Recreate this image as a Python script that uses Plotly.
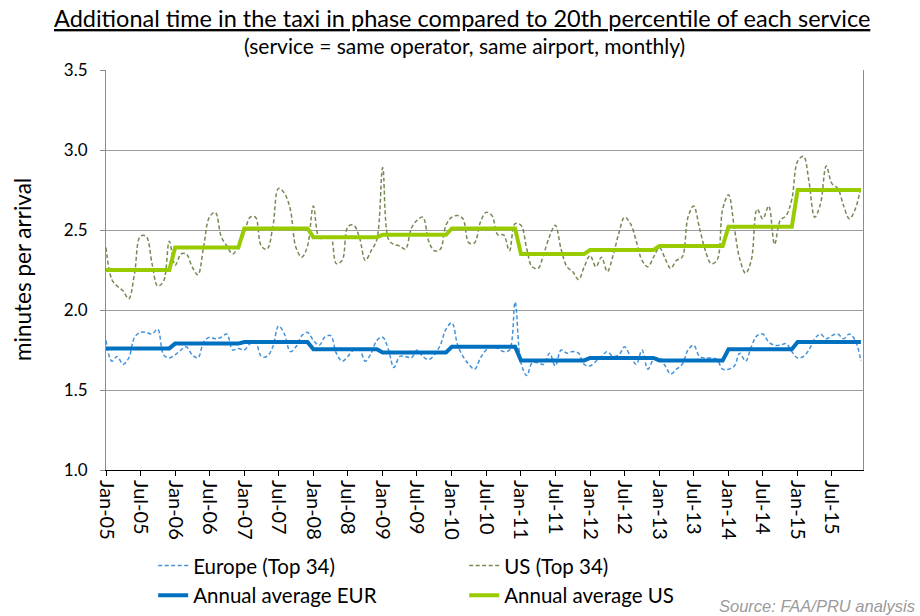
import pandas as pd
import plotly.graph_objects as go

# Monthly series, Jan-2005 .. Dec-2015 (minutes per arrival)
europe_top34 = [
    1.81, 1.68, 1.71, 1.66, 1.70, 1.83, 1.86, 1.86, 1.85, 1.88, 1.72, 1.70,
    1.72, 1.75, 1.77, 1.72, 1.70, 1.80, 1.83, 1.82, 1.83, 1.85, 1.75, 1.76,
    1.75, 1.79, 1.80, 1.71, 1.71, 1.77, 1.90, 1.85, 1.74, 1.77, 1.84, 1.86,
    1.81, 1.78, 1.83, 1.84, 1.73, 1.68, 1.71, 1.75, 1.75, 1.68, 1.73, 1.81,
    1.83, 1.75, 1.64, 1.71, 1.71, 1.70, 1.75, 1.71, 1.69, 1.72, 1.78, 1.88,
    1.92, 1.78, 1.71, 1.66, 1.63, 1.70, 1.75, 1.77, 1.76, 1.74, 1.75, 2.05,
    1.67, 1.59, 1.67, 1.67, 1.66, 1.73, 1.65, 1.75, 1.73, 1.74, 1.73, 1.66,
    1.65, 1.68, 1.71, 1.74, 1.71, 1.72, 1.77, 1.71, 1.66, 1.75, 1.63, 1.69,
    1.70, 1.65, 1.60, 1.63, 1.66, 1.75, 1.78, 1.71, 1.70, 1.70, 1.69, 1.63,
    1.63, 1.65, 1.73, 1.68, 1.77, 1.84, 1.85, 1.80, 1.78, 1.78, 1.79, 1.74,
    1.70, 1.71, 1.75, 1.82, 1.85, 1.82, 1.84, 1.85, 1.82, 1.85, 1.81, 1.68,
]

us_top34 = [
    2.39, 2.19, 2.15, 2.12, 2.07, 2.23, 2.46, 2.46, 2.29, 2.15, 2.18, 2.43,
    2.28, 2.35, 2.35, 2.27, 2.22, 2.40, 2.58, 2.61, 2.46, 2.40, 2.35, 2.40,
    2.48, 2.58, 2.58, 2.40, 2.38, 2.52, 2.76, 2.73, 2.63, 2.39, 2.33, 2.40,
    2.65, 2.45, 2.45, 2.46, 2.29, 2.31, 2.52, 2.53, 2.45, 2.31, 2.37, 2.44,
    2.89, 2.44, 2.41, 2.40, 2.38, 2.51, 2.56, 2.58, 2.43, 2.37, 2.38, 2.53,
    2.58, 2.59, 2.57, 2.42, 2.42, 2.55, 2.61, 2.59, 2.47, 2.47, 2.37, 2.54,
    2.53, 2.38, 2.27, 2.26, 2.35, 2.46, 2.53, 2.38, 2.27, 2.24, 2.19, 2.27,
    2.34, 2.27, 2.33, 2.24, 2.34, 2.48, 2.58, 2.54, 2.43, 2.31, 2.27, 2.33,
    2.39, 2.32, 2.26, 2.31, 2.33, 2.58, 2.65, 2.51, 2.37, 2.29, 2.31, 2.63,
    2.72, 2.51, 2.32, 2.23, 2.31, 2.63, 2.57, 2.65, 2.41, 2.56, 2.59, 2.69,
    2.93, 2.96, 2.81, 2.58, 2.66, 2.90, 2.79, 2.76, 2.65, 2.57, 2.63, 2.77,
]

# Annual averages, 2005 .. 2015
years = list(range(2005, 2016))
annual_eur = [1.76, 1.79, 1.80, 1.755, 1.735, 1.77, 1.685, 1.70, 1.685, 1.755, 1.80]
annual_us = [2.25, 2.39, 2.51, 2.455, 2.47, 2.51, 2.35, 2.375, 2.40, 2.52, 2.75]

months = pd.date_range("2005-01-01", periods=len(us_top34), freq="MS")
eur_by_year = dict(zip(years, annual_eur))
us_by_year = dict(zip(years, annual_us))
annual_eur_monthly = [eur_by_year[d.year] for d in months]
annual_us_monthly = [us_by_year[d.year] for d in months]

tick_dates = pd.date_range("2005-01-01", "2015-07-01", freq="6MS")

FONT = "Lato, Calibri, sans-serif"

# plot area in pixels: x 106..863, y 70..470
L, R, T, B = 106, 863, 70, 470


def px_x(px):
    return (px - L) / (R - L)


def px_y(py):
    return (B - py) / (B - T)


fig = go.Figure()
fig.add_trace(go.Scatter(
    x=months, y=europe_top34, name="Europe (Top 34)", mode="lines",
    line=dict(color="#4493DA", width=1.5, dash="4px,2.5px", shape="spline", smoothing=1.0),
))
fig.add_trace(go.Scatter(
    x=months, y=us_top34, name="US (Top 34)", mode="lines",
    line=dict(color="#748A55", width=1.5, dash="4px,2.5px", shape="spline", smoothing=1.0),
))
fig.add_trace(go.Scatter(
    x=months, y=annual_eur_monthly, name="Annual average EUR", mode="lines",
    line=dict(color="#0070C0", width=4),
))
fig.add_trace(go.Scatter(
    x=months, y=annual_us_monthly, name="Annual average US", mode="lines",
    line=dict(color="#99CC00", width=4),
))

fig.update_layout(
    width=920, height=616,
    margin=dict(l=L, r=920 - R, t=T, b=616 - B, autoexpand=False),
    paper_bgcolor="white", plot_bgcolor="white",
    font=dict(family=FONT, color="#000000"),
    showlegend=True,
    legend=dict(
        orientation="h", xref="container", yref="container",
        x=0.1665, y=0.114, xanchor="left", yanchor="top",
        entrywidth=266, entrywidthmode="pixels",
        font=dict(family=FONT, size=20.5, color="#000000"),
        bgcolor="rgba(0,0,0,0)", itemwidth=30,
    ),
    annotations=[
        dict(text="<u>Additional time in the taxi in phase compared to 20th percentile of each service</u>",
             xref="paper", yref="paper", x=px_x(462), y=px_y(18),
             xanchor="center", yanchor="middle", showarrow=False,
             font=dict(family=FONT, size=23.5, color="#000000")),
        dict(text="(service = same operator, same airport, monthly)",
             xref="paper", yref="paper", x=px_x(464), y=px_y(46),
             xanchor="center", yanchor="middle", showarrow=False,
             font=dict(family=FONT, size=21, color="#000000")),
        dict(text="minutes per arrival", textangle=-90,
             xref="paper", yref="paper", x=px_x(22), y=px_y(270),
             xanchor="center", yanchor="middle", showarrow=False,
             font=dict(family=FONT, size=22.5, color="#000000")),
        dict(text="<i>Source: FAA/PRU analysis</i>",
             xref="paper", yref="paper", x=px_x(917), y=px_y(606),
             xanchor="right", yanchor="middle", showarrow=False,
             font=dict(family="Liberation Sans, Arial, sans-serif", size=16.5, color="#9A9A9A")),
    ],
)

fig.update_xaxes(
    type="date", range=["2005-01-01", "2015-12-12"], automargin=False,
    tickvals=tick_dates, tickformat="%b-%y", tickangle=90,
    tickfont=dict(family=FONT, size=20, color="#000000"),
    ticks="outside", ticklen=5, tickcolor="#000000",
    showline=True, linecolor="#000000", linewidth=1,
    showgrid=False, zeroline=False,
)
fig.update_yaxes(
    range=[1.0, 3.5], dtick=0.5, tick0=1.0, tickformat=".1f", automargin=False,
    tickfont=dict(family=FONT, size=17, color="#000000"),
    ticks="outside", ticklen=5, tickcolor="#8C8C8C", ticklabelstandoff=9,
    showline=True, linecolor="#8C8C8C", linewidth=1, mirror=True,
    showgrid=True, gridcolor="#9C9C9C", gridwidth=1, zeroline=False,
)

fig.write_html("out.html")
